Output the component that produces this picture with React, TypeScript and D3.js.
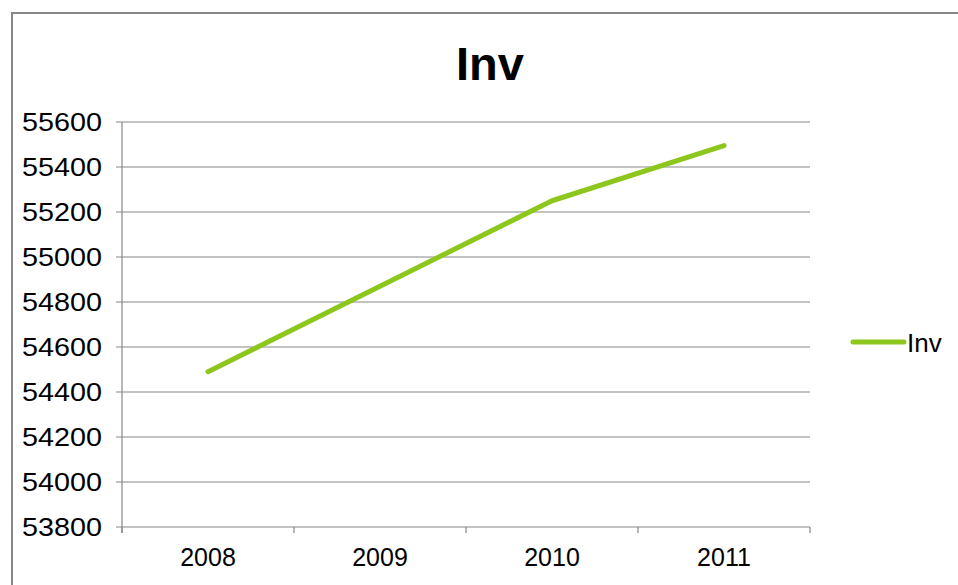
import * as d3 from "d3";
import React from "react";

const years = ["2008", "2009", "2010", "2011"];
const invValues = [54490, 54870, 55250, 55495];
const yTicks = [53800, 54000, 54200, 54400, 54600, 54800, 55000, 55200, 55400, 55600];

const W = 958;
const H = 585;
const green = "#8dc71e";
const grey = "#888888";
const font = "'Liberation Sans', Arial, sans-serif";

export default function App() {
  const plot = { left: 122, right: 810, top: 122, bottom: 527 };

  const x = d3.scaleBand().domain(years).range([plot.left, plot.right]);
  const y = d3.scaleLinear().domain([53800, 55600]).range([plot.bottom, plot.top]);

  const line = d3
    .line<number>()
    .x((d, i) => x(years[i])! + x.bandwidth() / 2)
    .y((d) => y(d));

  // category boundaries for the x tick marks
  const bounds = [...years.map((c) => x(c)!), plot.right];

  return (
    <svg
      width={W}
      height={H}
      style={{ position: "absolute", left: 0, top: 0, background: "#fff" }}
      fontFamily={font}
    >
      <rect x={12} y={13} width={W + 10} height={H + 10} fill="#fff" stroke={grey} strokeWidth={2} />
      <text x={490} y={80} textAnchor="middle" fontSize={47} fontWeight="bold">
        Inv
      </text>

      {yTicks.map((t) => (
        <g key={t}>
          <line x1={plot.left - 6} x2={plot.right} y1={y(t)} y2={y(t)} stroke={grey} strokeWidth={1.2} />
          <text x={102} y={y(t)} dy="0.36em" textAnchor="end" fontSize={25.5} textLength={80} lengthAdjust="spacingAndGlyphs">
            {t}
          </text>
        </g>
      ))}

      <line x1={plot.left} x2={plot.left} y1={plot.top} y2={plot.bottom + 6} stroke={grey} strokeWidth={1.2} />
      {bounds.map((b, i) => (
        <line key={i} x1={b} x2={b} y1={plot.bottom} y2={plot.bottom + 6} stroke={grey} strokeWidth={1.2} />
      ))}
      {years.map((c) => (
        <text key={c} x={x(c)! + x.bandwidth() / 2} y={566} textAnchor="middle" fontSize={25}>
          {c}
        </text>
      ))}

      <path d={line(invValues)!} fill="none" stroke={green} strokeWidth={5} strokeLinecap="round" strokeLinejoin="round" />

      <line x1={853} x2={904} y1={342} y2={342} stroke={green} strokeWidth={5} strokeLinecap="round" />
      <text x={907} y={352} fontSize={26}>
        Inv
      </text>
    </svg>
  );
}
